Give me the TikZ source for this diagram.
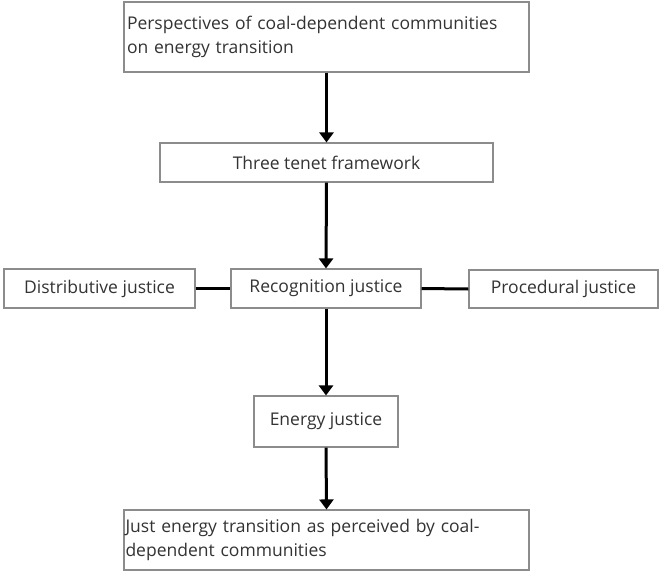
\documentclass[tikz,border=0pt]{standalone}
\usepackage{fontspec}
\setmainfont{Open Sans}
\usetikzlibrary{arrows.meta}
\begin{document}
\begin{tikzpicture}[x=1pt,y=-1pt,
  box/.style={draw=black!45, line width=1.1pt, fill=white, inner sep=0pt, text=black!80,
    font=\fontsize{17.5}{24}\selectfont},
  flow/.style={line width=3pt, -{Triangle[width=14pt,length=10pt]}},
  link/.style={line width=3pt}]
\useasboundingbox (0,0) rectangle (659,571);
\node[box, minimum width=405pt, minimum height=70pt, text width=399pt, align=left] (persp) at (326.5,37)
  {Perspectives of coal-dependent communities\\on energy transition};
\node[box, minimum width=333pt, minimum height=39pt] (three) at (326.5,162.5) {Three tenet framework};
\node[box, minimum width=191pt, minimum height=39pt] (dist) at (99.5,288.5) {Distributive justice};
\node[box, minimum width=190pt, minimum height=39pt] (recog) at (326,288.5) {Recognition justice};
\node[box, minimum width=189pt, minimum height=38pt] (proc) at (563.5,289) {Procedural justice};
\node[box, minimum width=144pt, minimum height=51pt] (energy) at (326,421.5) {Energy justice};
\node[box, minimum width=405pt, minimum height=60pt, text width=402pt, align=left] (just) at (326.5,540)
  {Just energy transition as perceived by coal-\\dependent communities};
\draw[flow] (persp.south) -- (three.north);
\draw[flow] (three.south) -- (recog.north);
\draw[flow] (recog.south) -- (energy.north);
\draw[flow] (energy.south) -- (just.north);
\draw[link] (dist.east) -- (recog.west);
\draw[link] (recog.east) -- (proc.west);
\end{tikzpicture}
\end{document}
